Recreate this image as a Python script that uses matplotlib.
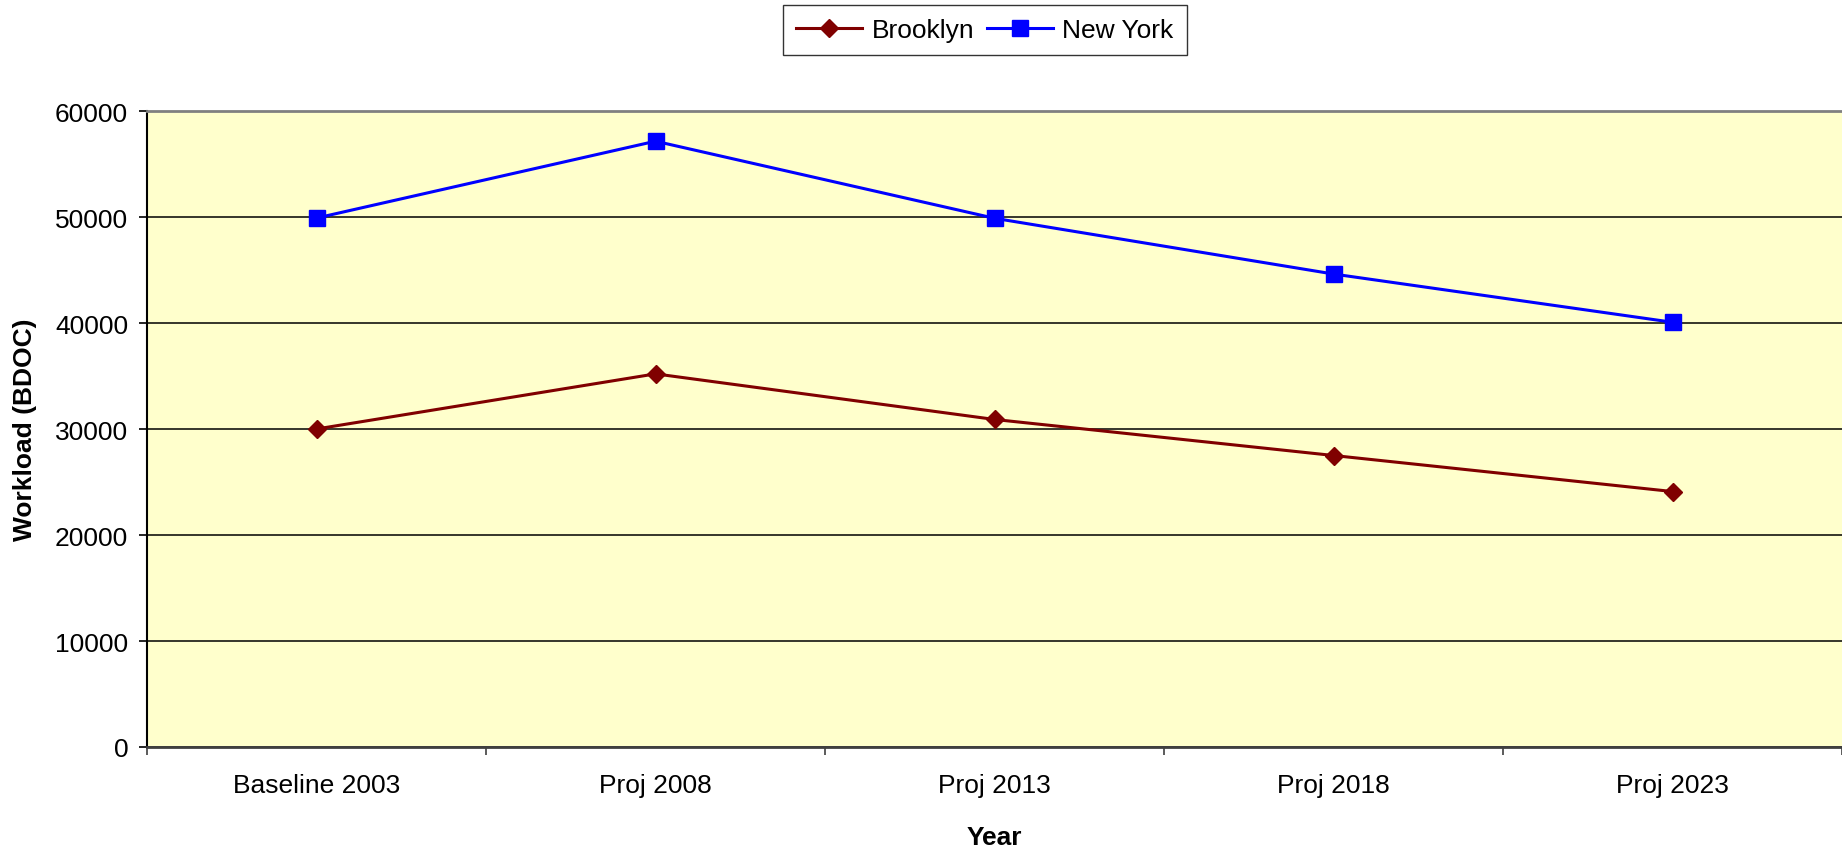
import matplotlib.pyplot as plt

plt.rcParams['font.family'] = ['Liberation Sans', 'DejaVu Sans']

years = ['Baseline 2003', 'Proj 2008', 'Proj 2013', 'Proj 2018', 'Proj 2023']
brooklyn = [30000, 35200, 30900, 27500, 24100]
new_york = [49900, 57150, 49880, 44620, 40070]

fig = plt.figure(figsize=(18.42, 8.53), dpi=100)
ax = fig.add_axes([147 / 1842, 1 - 748 / 853, 1 - 147 / 1842, (748 - 112) / 853])
ax.set_facecolor('#FFFFCC')

x = list(range(len(years)))
ax.plot(x, brooklyn, color='#800000', lw=2.2, marker='D', ms=9.2,
        label='Brooklyn', zorder=3)
ax.plot(x, new_york, color='#0000FF', lw=2.2, marker='s', ms=11,
        label='New York', zorder=3)

ax.set_xlim(-0.5, len(years) - 0.5)
ax.set_ylim(0, 60000)
ax.set_yticks(range(0, 60001, 10000))
ax.grid(axis='y', color='black', lw=1.1)
ax.set_axisbelow(True)

# category boundaries get the ticks, centers get the labels
ax.set_xticks([i - 0.5 for i in range(len(years) + 1)])
ax.set_xticklabels([])
ax.set_xticks(x, minor=True)
ax.set_xticklabels(years, minor=True, fontsize=19)
ax.tick_params(axis='x', which='major', direction='out', length=6, width=1.2, color='#404040')
ax.tick_params(axis='x', which='minor', length=0, pad=19)
ax.tick_params(axis='y', direction='out', length=5.5, width=1.2, labelsize=19, pad=8)

ax.spines['right'].set_visible(False)
ax.spines['top'].set_color('#808080')
ax.spines['top'].set_linewidth(2)
ax.spines['bottom'].set_color('#404040')
ax.spines['bottom'].set_linewidth(2)
ax.spines['left'].set_color('black')
ax.spines['left'].set_linewidth(1.5)

ax.set_ylabel('Workload (BDOC)', fontsize=19, fontweight='bold', labelpad=13)
ax.set_xlabel('Year', fontsize=19, fontweight='bold', labelpad=20)

leg = fig.legend(loc='center', bbox_to_anchor=(985 / 1842, 1 - 31 / 853), ncol=2,
                 fontsize=19, frameon=True, fancybox=False, handlelength=2.5,
                 handletextpad=0.35, columnspacing=0.5, borderpad=0.5)
leg.get_frame().set_edgecolor('black')
leg.get_frame().set_linewidth(1.0)

fig.savefig('out.png', dpi=100)
